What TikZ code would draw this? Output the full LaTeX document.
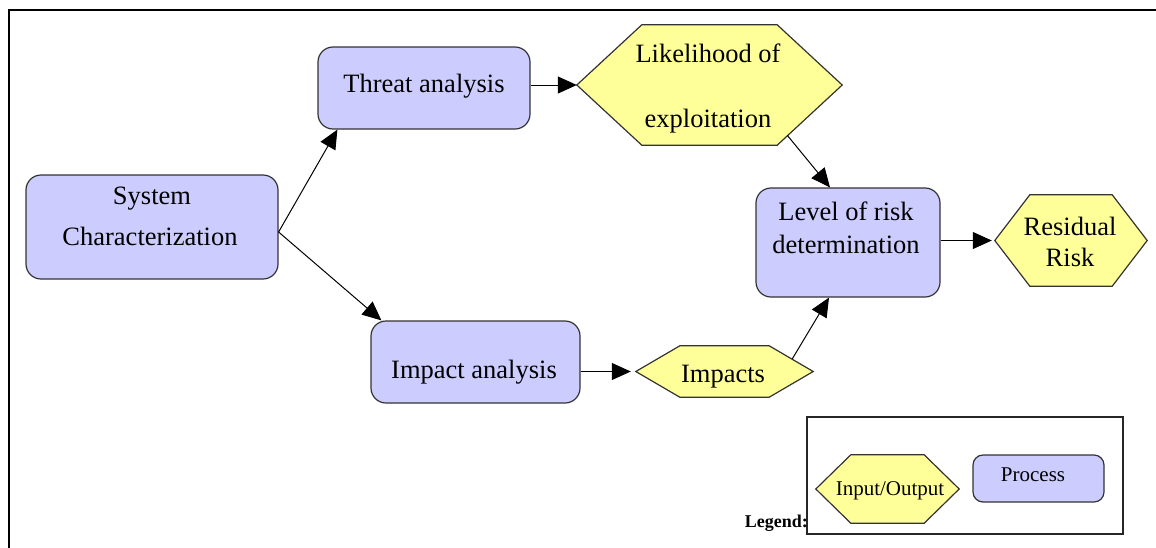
\documentclass[tikz,border=0pt]{standalone}
\usepackage{fontspec}
\setmainfont{Liberation Serif}
\usetikzlibrary{arrows.meta,calc}
\pgfdeclarelayer{background}
\pgfsetlayers{background,main}
\definecolor{proc}{HTML}{CCCCFF}
\definecolor{iofill}{HTML}{FFFF99}
\newcommand\drawhexagon[2]{%
  \filldraw[hexline] (#1.west) -- ([xshift=#2]#1.north west) -- ([xshift=-#2]#1.north east) -- (#1.east)
    -- ([xshift=-#2]#1.south east) -- ([xshift=#2]#1.south west) -- cycle;}
\tikzset{
  procbox/.style={draw=black!80, fill=proc, line width=1.2pt, rounded corners=15pt, inner sep=0pt},
  hexnode/.style={draw=none, inner sep=0pt},
  hexline/.style={draw=black!80, fill=iofill, line width=1.2pt, line join=miter},
  txt/.style={font=\fontsize{26.5}{30}\selectfont, anchor=base, inner sep=0pt},
  legtxt/.style={font=\fontsize{21}{25}\selectfont, anchor=base, inner sep=0pt},
  conn/.style={-{Triangle[length=19pt,width=17pt]}, line width=1pt},
}
\begin{document}
\begin{tikzpicture}[x=1pt,y=-1pt]
\useasboundingbox (0,0) rectangle (1156,547);
% frame
\draw[line width=2pt] (9,548) -- (9,10) -- (1157,10);
% process boxes
\node[procbox, minimum width=252pt, minimum height=104pt] (sc) at (152,227) {};
\node[procbox, minimum width=212pt, minimum height=82pt] (ta) at (424,88) {};
\node[procbox, minimum width=209pt, minimum height=82pt] (ia) at (475.5,362) {};
\node[procbox, minimum width=184pt, minimum height=109pt] (lr) at (848,242.5) {};
% io hexagon holders
\node[hexnode, minimum width=265pt, minimum height=120pt] (le) at (709.5,85) {};
\node[hexnode, minimum width=177pt, minimum height=51pt] (im) at (724.5,371.5) {};
\node[hexnode, minimum width=152pt, minimum height=91pt] (rr) at (1071,240.5) {};
% legend
\node[draw=black!85, line width=1.3pt, minimum width=316pt, minimum height=117pt, inner sep=0pt] (lg) at (965,475.5) {};
\node[hexnode, minimum width=143pt, minimum height=68pt] (io) at (887.5,489) {};
\node[procbox, rounded corners=10pt, minimum width=131pt, minimum height=47pt] (pr) at (1038.5,478.5) {};
\begin{pgfonlayer}{background}
\drawhexagon{le}{65pt}
\drawhexagon{im}{44pt}
\drawhexagon{rr}{35pt}
\drawhexagon{io}{35pt}
\end{pgfonlayer}
% texts
\node[txt] (t1) at (152,204) {System};
\node[txt] (t2) at (150,245) {Characterization};
\node[txt] (t3) at (424,92) {Threat analysis};
\node[txt] (t4) at (708,62) {Likelihood of};
\node[txt] (t5) at (708,127) {exploitation};
\node[txt] (t6) at (846,220) {Level of risk};
\node[txt] (t7) at (846,253) {determination};
\node[txt] (t8) at (1070,235) {Residual};
\node[txt] (t9) at (1070,266) {Risk};
\node[txt] (t10) at (474,378) {Impact analysis};
\node[txt] (t11) at (723,382) {Impacts};
\node[legtxt] (t12) at (890,495) {Input/Output};
\node[legtxt] (t13) at (1033,481) {Process};
\node[font=\fontsize{18}{22}\selectfont\bfseries, anchor=base east, inner sep=0pt] (t14) at (808,527) {Legend:};
% connectors
\draw[conn] ([yshift=-5pt]sc.east) -- ([xshift=20pt]ta.south west);
\draw[conn] ([yshift=-5pt]sc.east) -- ([xshift=11pt]ia.north west);
\draw[conn] (ta.east |- le.west) -- (le.west);
\draw[conn] ([xshift=-55pt,yshift=10pt]le.south east) -- ([xshift=-18pt]lr.north);
\draw[conn, shorten >=5pt] (ia.east |- im.west) -- (im.west);
\draw[conn] ([xshift=-21pt,yshift=12.5pt]im.east) -- ([xshift=-19pt]lr.south);
\draw[conn, shorten >=3pt] (lr.east |- rr.west) -- (rr.west);
\end{tikzpicture}
\end{document}
